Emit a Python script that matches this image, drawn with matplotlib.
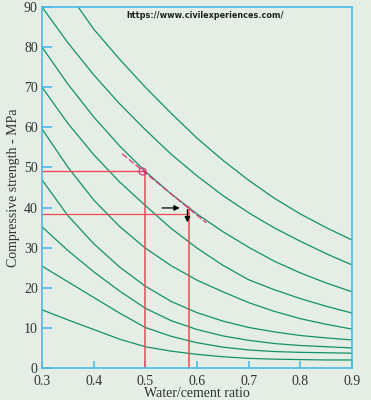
import matplotlib.pyplot as plt
import numpy as np

# water/cement ratio grid
wc = [0.30, 0.35, 0.40, 0.45, 0.50, 0.55, 0.60, 0.65, 0.70, 0.75, 0.80, 0.85, 0.90]

# top curve starts at the top edge (0.37, 90)
wc_top = [0.37, 0.40, 0.45, 0.50, 0.55, 0.60, 0.65, 0.70, 0.75, 0.80, 0.85, 0.90]
curve_top = [90, 84.5, 77.0, 70.0, 63.5, 57.3, 51.8, 46.8, 42.3, 38.4, 35.0, 31.9]

curves = [
    [90.0, 81.1, 73.1, 65.9, 59.4, 53.3, 47.9, 43.0, 38.7, 34.9, 31.6, 28.5, 25.7],
    [80.0, 70.8, 62.6, 55.4, 49.0, 43.4, 38.4, 34.0, 30.1, 26.6, 23.7, 21.2, 19.0],
    [70.0, 61.0, 53.2, 46.4, 40.5, 34.8, 29.9, 25.6, 22.0, 19.5, 17.3, 15.4, 13.7],
    [59.6, 50.1, 41.9, 35.3, 29.9, 25.5, 21.9, 19.0, 16.3, 14.1, 12.3, 10.9, 9.7],
    [46.9, 38.0, 31.0, 25.2, 20.4, 16.6, 13.8, 11.7, 10.1, 9.0, 8.1, 7.5, 7.0],
    [35.2, 29.3, 24.0, 19.2, 14.9, 11.8, 9.6, 8.0, 6.9, 6.1, 5.6, 5.3, 5.0],
    [25.4, 21.5, 17.6, 13.7, 10.1, 7.9, 6.3, 5.2, 4.5, 4.1, 3.9, 3.8, 3.7],
    [14.5, 12.0, 9.6, 7.2, 5.3, 4.2, 3.4, 2.8, 2.4, 2.2, 2.1, 2.0, 2.0],
]

# worked example
wc_a, fc_a = 0.5, 49.0
wc_b, fc_b = 0.585, 38.5
pink_x = [0.455, 0.618]
pink_y = [53.4, 36.2]

bg = "#e4eee4"
blue = "#4cb8e6"
green = "#14916a"
red = "#f04858"
pink = "#e0307a"

fig = plt.figure(figsize=(3.71, 4.0), dpi=100, facecolor=bg)
ax = fig.add_axes([0.1132, 0.08, 0.8356, 0.9025])
ax.set_facecolor(bg)

ax.plot(wc_top, curve_top, color=green, lw=0.9)
for c in curves:
    ax.plot(wc, c, color=green, lw=0.9)

# red construction lines
ax.plot([0.3, wc_a], [fc_a, fc_a], color=red, lw=1.0)
ax.plot([wc_a, wc_a], [0, fc_a], color=red, lw=1.1)
ax.plot([0.3, wc_b], [fc_b, fc_b], color=red, lw=0.9)
ax.plot([wc_b, wc_b], [0, 40.2], color=red, lw=1.1)

ax.plot(pink_x, pink_y, color=pink, lw=0.9, ls=(0, (5, 2)))
ax.plot([0.494], [49.2], marker="o", ms=5, mfc="none", mec=pink, mew=0.9)

# black arrows
ax.annotate("", xy=(0.572, 39.9), xytext=(0.527, 39.9),
            arrowprops=dict(arrowstyle="-|>", color="black", lw=0.9, mutation_scale=8))
ax.annotate("", xy=(0.5815, 35.6), xytext=(0.5815, 40.2),
            arrowprops=dict(arrowstyle="-|>", color="black", lw=0.9, mutation_scale=8))

ax.set_xlim(0.3, 0.9)
ax.set_ylim(0, 90)
for s in ax.spines.values():
    s.set_color(blue)
    s.set_linewidth(1.2)

ax.set_xticks([0.3, 0.4, 0.5, 0.6, 0.7, 0.8, 0.9],
              ["0.3", "0.4", "0.5", "0.6", "0.7", "0.8", "0.9"],
              family="Liberation Serif", fontsize=10, color="#333333")
ax.set_yticks(range(0, 91, 10), [str(v) for v in range(0, 91, 10)],
              family="Liberation Serif", fontsize=10, color="#333333")
ax.tick_params(axis="x", direction="in", length=5, width=1.2, color=blue, pad=5)
ax.tick_params(axis="y", direction="in", length=7, width=1.2, color=blue, pad=3)

ax.set_xlabel("Water/cement ratio", family="Liberation Serif", fontsize=10,
              color="#333333", labelpad=-1)
ax.set_ylabel("Compressive strength - MPa", family="Liberation Serif", fontsize=10,
              color="#333333", labelpad=3)

ax.text(0.525, 0.976, "https://www.civilexperiences.com/", transform=ax.transAxes,
        ha="center", va="center", fontsize=5.9, fontweight="bold", color="#222222")

plt.savefig("out.png", dpi=100, facecolor=bg)
